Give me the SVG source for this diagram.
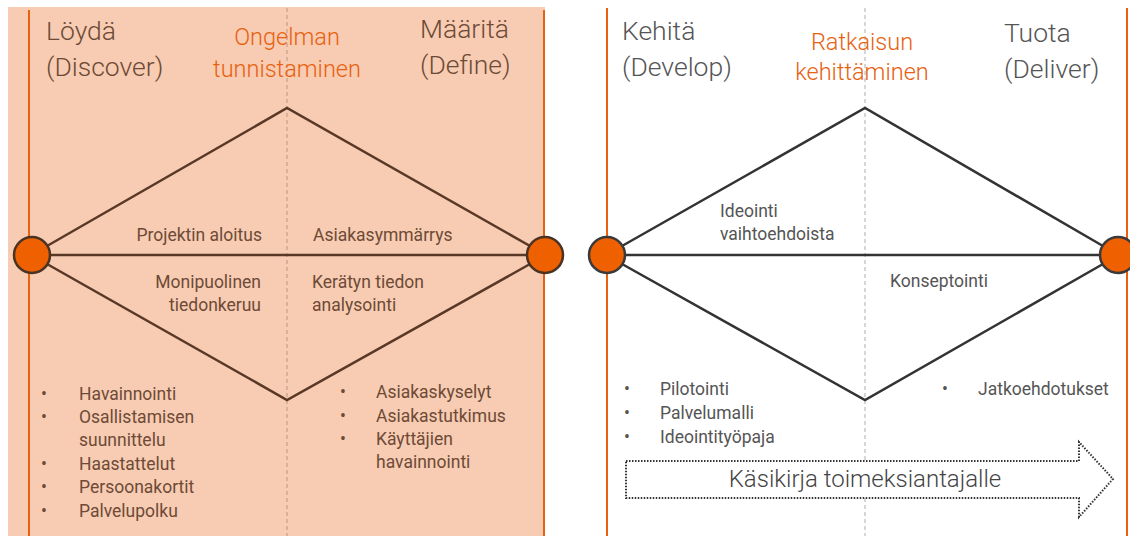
<svg xmlns="http://www.w3.org/2000/svg" width="1130" height="536" viewBox="0 0 1130 536">
  <style>
    .t { font-family: Roboto, "Open Sans", "Liberation Sans", sans-serif; }
    .head { font-size: 26.5px; font-weight: 300; }
    .accent { font-size: 23.5px; font-weight: 300; fill: #e8610f; text-anchor: middle; }
    .lbl { font-size: 17.5px; }
    .brown { fill: #6e4a36; }
    .gray { fill: #555555; }
    .edgeB { stroke: #5a3826; stroke-width: 2.5; fill: none; }
    .edgeG { stroke: #333333; stroke-width: 2.5; fill: none; }
    .rule { stroke: #e8610f; stroke-width: 2; }
    .node { fill: #ee6000; stroke-width: 2.5; }
  </style>

  <rect width="1130" height="536" fill="#ffffff"/>

  <!-- Phase 1: problem framing (Discover / Define) -->
  <g id="panel-problem">
    <rect x="8" y="7" width="537" height="529" fill="#f7ccb3"/>
    <line class="rule" x1="29" y1="10" x2="29" y2="536"/>
    <line class="rule" x1="544" y1="10" x2="544" y2="536"/>
    <line x1="287" y1="8" x2="287" y2="536" stroke="#c2a08c" stroke-width="1.2" stroke-dasharray="4 3"/>
    <text class="t head brown" x="46" y="40">Löydä</text>
    <text class="t head brown" x="46" y="76">(Discover)</text>
    <text class="t accent" x="287" y="45">Ongelman</text>
    <text class="t accent" x="287" y="77">tunnistaminen</text>
    <text class="t head brown" x="420" y="38">Määritä</text>
    <text class="t head brown" x="420" y="74">(Define)</text>
  </g>

  <!-- Phase 2: solution development (Develop / Deliver) -->
  <g id="panel-solution">
    <line class="rule" x1="607" y1="8" x2="607" y2="536"/>
    <line class="rule" x1="1127" y1="8" x2="1127" y2="536"/>
    <line x1="865" y1="8" x2="865" y2="536" stroke="#bbbbbb" stroke-width="1.2" stroke-dasharray="4 3"/>
    <text class="t head gray" x="622" y="40">Kehitä</text>
    <text class="t head gray" x="622" y="76">(Develop)</text>
    <text class="t accent" x="862" y="50">Ratkaisun</text>
    <text class="t accent" x="862" y="80">kehittäminen</text>
    <text class="t head gray" x="1004" y="42">Tuota</text>
    <text class="t head gray" x="1004" y="78">(Deliver)</text>
  </g>

  <!-- Diamond connectors -->
  <g id="connectors">
    <path class="edgeB" d="M47,246 L287,108 L530,246 M47,264 L287,400 L530,264 M50,255 H527"/>
    <path class="edgeG" d="M622,246 L865,108 L1103,246 M622,264 L865,400 L1103,264 M625,255 H1100"/>
  </g>

  <g id="node-discover-start"><circle class="node" cx="32" cy="255" r="18" stroke="#4a3323"/></g>
  <g id="node-define-end"><circle class="node" cx="545" cy="255" r="18" stroke="#4a3323"/></g>
  <g id="node-develop-start"><circle class="node" cx="607" cy="255" r="18" stroke="#3a3a3a"/></g>
  <g id="node-deliver-end"><circle class="node" cx="1118" cy="255" r="18" stroke="#3a3a3a"/></g>

  <!-- Labels inside the diamonds -->
  <g id="labels-problem" class="t lbl brown">
    <text x="262" y="241" text-anchor="end">Projektin aloitus</text>
    <text x="313" y="241">Asiakasymmärrys</text>
    <text x="261" y="288" text-anchor="end">Monipuolinen</text>
    <text x="261" y="311" text-anchor="end">tiedonkeruu</text>
    <text x="312" y="288">Kerätyn tiedon</text>
    <text x="312" y="311">analysointi</text>
  </g>
  <g id="labels-solution" class="t lbl gray">
    <text x="720" y="217">Ideointi</text>
    <text x="720" y="240">vaihtoehdoista</text>
    <text x="890" y="287">Konseptointi</text>
  </g>

  <!-- Method lists -->
  <g id="list-discover" class="t lbl brown">
    <text x="41" y="400">•</text><text x="79" y="400">Havainnointi</text>
    <text x="41" y="423">•</text><text x="79" y="423">Osallistamisen</text>
    <text x="79" y="446">suunnittelu</text>
    <text x="41" y="470">•</text><text x="79" y="470">Haastattelut</text>
    <text x="41" y="493">•</text><text x="79" y="493">Persoonakortit</text>
    <text x="41" y="517">•</text><text x="79" y="517">Palvelupolku</text>
  </g>
  <g id="list-define" class="t lbl brown">
    <text x="340" y="398">•</text><text x="376" y="398">Asiakaskyselyt</text>
    <text x="340" y="422">•</text><text x="376" y="422">Asiakastutkimus</text>
    <text x="340" y="445">•</text><text x="376" y="445">Käyttäjien</text>
    <text x="376" y="468">havainnointi</text>
  </g>
  <g id="list-develop" class="t lbl gray">
    <text x="624" y="395">•</text><text x="660" y="395">Pilotointi</text>
    <text x="624" y="419">•</text><text x="660" y="419">Palvelumalli</text>
    <text x="624" y="443">•</text><text x="660" y="443">Ideointityöpaja</text>
  </g>
  <g id="list-deliver" class="t lbl gray">
    <text x="942" y="395">•</text><text x="978" y="395">Jatkoehdotukset</text>
  </g>

  <!-- Handbook arrow -->
  <g id="handbook-arrow">
    <path d="M626,461 H1079 V442 L1113,479 L1079,517 V498 H626 Z" fill="#ffffff" stroke="#333333" stroke-width="2" stroke-dasharray="1.5 1.5"/>
    <text class="t" x="865" y="487" text-anchor="middle" font-size="24" font-weight="300" fill="#444444">Käsikirja toimeksiantajalle</text>
  </g>
</svg>
